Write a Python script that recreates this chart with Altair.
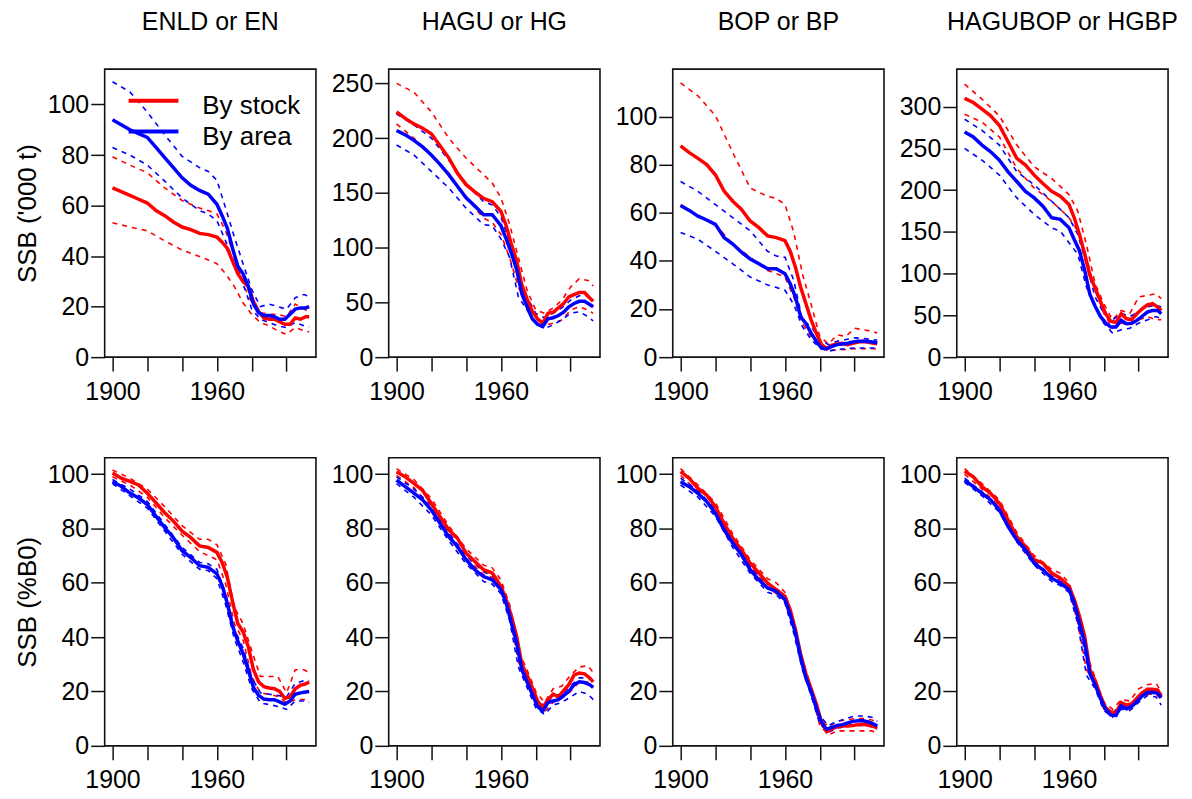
import altair as alt
import pandas as pd

# ---------------- data ----------------
YEARS = [1900, 1905, 1910, 1915, 1920, 1925, 1930, 1935, 1940, 1945, 1950, 1955, 1960,
         1963, 1966, 1969, 1972, 1975, 1978, 1981, 1984, 1987, 1990, 1993, 1996, 1999,
         2002, 2005, 2008, 2011, 2013]
BYEARS = [1900, 1910, 1920, 1930, 1940, 1950, 1955, 1960, 1965, 1970, 1975, 1980, 1985,
          1990, 1995, 2000, 2005, 2010, 2013]

STOCKS = ["ENLD or EN", "HAGU or HG", "BOP or BP", "HAGUBOP or HGBP"]
SERIES = ["By stock", "By area"]
COLORS = ["#ff0000", "#0000ff"]
X_TICKS = [1900, 1920, 1940, 1960, 1980, 2000]
YTITLE_TOP = "SSB ('000 t)"
YTITLE_BOTTOM = "SSB (%B0)"

# --- SSB ('000 t) ---
EN_T_STOCK = [67, 65.5, 64, 62.5, 61, 58, 56, 53.5, 51.5, 50.5, 49, 48.5, 47.5,
              45.5, 43, 38, 33, 30, 28, 22, 18, 15.5, 15, 15, 14, 13, 13, 15.5, 15, 16, 16]
EN_T_STOCK_HI = [79.3, 76, 73, 67, 62, 59, 58, 56.7, 50, 40, 29, 21.5, 17.6, 17, 17, 16, 21, 19, 18]
EN_T_STOCK_LO = [53.2, 51.5, 50, 46, 42.4, 39.8, 38.5, 37, 33, 28, 21.5, 17, 13.7, 12.4, 10.4, 9, 11.7, 10.4, 10]
EN_T_AREA = [94, 92, 90, 88.5, 87, 83, 79, 75, 71, 68, 66, 64.5, 60.5,
             56, 51, 43, 36, 33, 28, 21, 17.5, 16.5, 16.5, 16, 15, 15, 17, 19, 19.5, 19.5, 20]
EN_T_AREA_HI = [109, 105, 97, 88, 79.5, 75, 73.5, 70, 59, 47.6, 37, 26.7, 20, 21, 20, 19, 23.5, 24.8, 24]
EN_T_AREA_LO = [83, 80, 76, 69.7, 63, 58, 56.7, 54, 46, 37, 29, 19, 15, 13.7, 12.4, 11.7, 13.7, 12.4, 12]

HG_T_STOCK = [224, 218, 213, 209, 204, 193, 182, 168, 157.5, 151, 145, 142, 133,
              120, 103, 88, 66, 53, 42, 35, 31, 40, 41, 45, 49, 55, 57, 59, 59, 54, 51]
HG_T_STOCK_HI = [250, 242, 224, 200, 181.6, 166.6, 159, 145.5, 121, 91, 61, 43, 40, 45, 52, 64, 71.7, 70, 65]
HG_T_STOCK_LO = [213, 200, 184.6, 168, 145.5, 127, 123, 112, 91, 64, 49, 37, 29, 31, 34, 43, 46, 43, 40]
HG_T_AREA = [207, 203, 198, 192, 184.6, 176, 166.6, 156, 145.5, 138, 130, 130, 120,
             108, 95, 80, 58, 46, 35, 30, 28, 35, 36, 38, 41, 46, 49, 51, 51, 48, 46]
HG_T_AREA_HI = [222, 212, 200, 180, 158, 142, 139, 128, 105, 75, 55, 40, 36, 40, 45, 52, 56, 56, 52]
HG_T_AREA_LO = [193.7, 184.6, 169.6, 154.5, 136, 121, 120, 108, 91, 55, 43, 31, 26, 29.5, 34, 40, 41.5, 37, 33]

BP_T_STOCK = [87.8, 85, 82.6, 80, 75.8, 69, 64.8, 61.4, 56.6, 53.8, 50.4, 49.7, 48.4,
              44, 37.4, 29, 22.3, 15.5, 10, 5.2, 3.5, 5, 5.5, 5.8, 5.2, 5.8, 6.3, 6.5, 6.2, 5.8, 5.5]
BP_T_STOCK_HI = [114, 108.6, 100.4, 85, 70.3, 66.8, 66, 63.4, 52, 34.7, 22, 8.6, 5.5, 9.3, 8.6, 12, 11.4, 10.7, 10]
BP_T_STOCK_LO = [63.4, 58.5, 55, 47, 41.5, 36, 34.7, 33.3, 25, 14, 8.6, 4.5, 2.8, 3, 3.2, 3.5, 3.5, 3.5, 3.5]
BP_T_AREA = [63, 61, 58.6, 57, 55.2, 49.7, 47, 43.6, 40.8, 38.8, 36.7, 36.7, 34.7,
             30.5, 25, 16.8, 14, 10, 6.6, 3.8, 3.5, 4.5, 5.2, 5.5, 5.8, 6.3, 6.6, 6.6, 6.5, 6.2, 6]
BP_T_AREA_HI = [73, 68.9, 63.4, 58, 52.5, 44, 42, 41.5, 32, 15.5, 12.7, 7.3, 5.2, 6.6, 7.3, 8, 7.8, 7.3, 7]
BP_T_AREA_LO = [51.8, 49, 44, 38.8, 33.3, 30, 29, 27.8, 22, 12.7, 7.3, 3.8, 2.5, 3.2, 3.5, 3.8, 3.8, 3.8, 3.8]

HGBP_T_STOCK = [310, 305, 297, 289, 277.5, 258, 238, 230, 218, 208, 198.6, 192.7, 182.8,
                167, 147, 123.6, 98, 83, 67, 52, 43, 41.5, 52, 46, 45, 52, 58, 62.5, 64, 60, 56]
HGBP_T_STOCK_HI = [327, 309, 289, 254, 228, 214, 204.5, 194.6, 175, 135, 88, 64, 44.6, 56, 52.5, 72, 74, 76, 70]
HGBP_T_STOCK_LO = [291, 281.5, 263.7, 226, 202.5, 186.7, 177, 167, 151, 119.6, 80, 52.5, 34.7, 40.7, 38.7, 44.6, 48.6, 44.6, 45]
HGBP_T_AREA = [269.6, 263.7, 254, 246, 236, 222, 210.4, 198.6, 190.7, 180.8, 167, 165, 155,
               141, 127.5, 104, 75, 61, 49, 41, 36, 36, 44, 40, 40.5, 44, 49, 54, 56, 56, 52]
HGBP_T_AREA_HI = [285, 271.6, 254, 222, 206.5, 186.7, 177, 167, 147, 111.7, 72, 52.5, 44.6, 52.5, 48.6, 54.5, 60.4, 62.4, 60]
HGBP_T_AREA_LO = [250, 236, 218, 190.7, 171, 155, 151, 137, 123.6, 84, 60.4, 40.7, 28.8, 32.8, 34.7, 40.7, 44.6, 48.6, 46]

# --- SSB (%B0) ---
EN_P_STOCK = [100.4, 98.5, 97.3, 96, 93, 89.4, 85.8, 82.7, 79, 76.6, 73.6, 73, 71.2,
              67.5, 62, 53, 45, 42, 36.5, 28, 23.5, 21.8, 21.3, 21, 20, 17.5, 18, 21, 22.3, 22.8, 23.5]
EN_P_STOCK_HI = [101.5, 98.5, 94.5, 88, 81, 76, 76, 74, 67, 51, 45, 35, 25.5, 25.5, 25.5, 19.5, 28, 28, 27]
EN_P_STOCK_LO = [99, 96, 91.5, 84, 77.5, 71.5, 70, 68.5, 59.6, 45, 39, 25.5, 19.5, 18.9, 18.2, 15.8, 17, 17, 17]
EN_P_AREA = [97.3, 95.5, 93, 91.2, 88.8, 84.5, 80.3, 76.6, 71.8, 69.3, 66.3, 65.7, 63.3,
             59, 52.3, 44, 38.5, 34, 28, 21.5, 18.5, 17.2, 17, 17, 16.2, 15.3, 16.5, 19, 19.5, 19.8, 20]
EN_P_AREA_HI = [98, 94.5, 90, 81.5, 73, 67.5, 67, 65, 56, 43, 36, 25, 19.5, 19, 18.5, 18, 23, 24, 24]
EN_P_AREA_LO = [96.5, 92, 87.5, 79, 70.5, 65, 64.5, 61.5, 52, 39.5, 31, 21, 15.8, 15.2, 14.5, 13.4, 16.5, 16.5, 16]

HG_P_STOCK = [100.9, 99, 96.6, 94, 89.2, 84.3, 79.5, 76.4, 70.9, 67.8, 64.8, 63.6, 58.7,
              53.8, 47.7, 40.3, 30, 26, 21.5, 16.5, 14, 17, 19, 18, 20.3, 22.5, 26, 26.8, 26.5, 25, 23.5]
HG_P_STOCK_HI = [102, 98, 91, 81, 72.5, 66.5, 65.5, 61, 52, 35, 28, 20, 16, 21, 22, 26, 29, 29.5, 27]
HG_P_STOCK_LO = [99.5, 95, 87.5, 78, 69, 63, 62, 56.5, 48, 31, 24.5, 16.5, 12.5, 16, 17.5, 20, 23.5, 23.5, 21.5]
HG_P_AREA = [97.8, 95.4, 93, 90.5, 86.8, 81.9, 77, 73.3, 68.5, 64.8, 62.3, 61.1, 57.5,
             52.6, 45.2, 37.9, 28, 23.5, 19, 14.5, 12.8, 15.9, 16.5, 17, 18.5, 20, 22.5, 23.6, 23.3, 22.5, 21.5]
HG_P_AREA_HI = [99, 94.5, 88.5, 78.5, 70, 64, 62.5, 59, 49.5, 32.5, 26, 17.5, 14.5, 18.5, 19, 22, 25, 25, 23.5]
HG_P_AREA_LO = [96.5, 91.5, 85, 75.5, 67, 60.5, 59.5, 56, 46, 29, 21.5, 14, 11.5, 15, 16, 18, 20, 19, 17]

BP_P_STOCK = [100.9, 98.4, 94.7, 92.3, 88, 81.9, 76.4, 72.1, 67.2, 63.6, 59.9, 57.5, 55,
              50.1, 42.8, 33.6, 26.5, 21, 15.5, 8.6, 5.2, 6.3, 7, 7.3, 7.3, 7.5, 7.8, 7.9, 7.6, 7.1, 6.5]
BP_P_STOCK_HI = [102, 96, 89.5, 78, 68.5, 61.5, 60, 56.5, 46, 32, 21.5, 10.5, 7, 9, 9.5, 10, 10, 9.5, 8.5]
BP_P_STOCK_LO = [99.5, 93.5, 86.5, 75, 66, 58.5, 56, 53.5, 43, 29.5, 19.5, 7.5, 4, 5.5, 5.5, 5.5, 5.5, 5.5, 4.5]
BP_P_AREA = [97.2, 95.4, 92.9, 89.9, 85.6, 79.5, 74.6, 70.3, 64.8, 61.1, 58.1, 56.8, 53.8,
             48.3, 41.6, 32.4, 25, 20, 14, 8.6, 6.1, 6.8, 7.5, 7.8, 8.4, 9, 9.2, 9.2, 8.8, 8, 7.3]
BP_P_AREA_HI = [98.5, 94, 87, 76, 66, 59.5, 58, 55, 45, 30.5, 21, 11, 7.5, 9, 10, 11, 11, 10.5, 9]
BP_P_AREA_LO = [96, 91.5, 84.5, 73, 63.5, 56.5, 55.5, 52.5, 41.5, 28, 18.5, 8, 5, 6.5, 7, 7.5, 7.5, 7, 6]

HGBP_P_STOCK = [101.1, 99, 95.4, 92.9, 89.2, 83.1, 77, 73.3, 68.5, 67.2, 63.6, 61.7, 58.7,
                53.8, 47.7, 40.3, 28, 24, 18.5, 14, 12.5, 12.2, 15.9, 15, 15.5, 17.5, 19.5, 20.8, 20.8, 20.5, 18.3]
HGBP_P_STOCK_HI = [102, 96.5, 90.5, 78.5, 70, 65, 63.5, 60, 50, 34, 25, 16, 13.5, 17, 16.5, 21, 22.5, 23, 20]
HGBP_P_STOCK_LO = [100, 94.5, 88, 75.5, 67, 62, 60, 57.5, 45.5, 28, 23, 13.5, 11, 14.5, 14, 18, 19, 19, 17]
HGBP_P_AREA = [97.8, 95.4, 92.9, 90.5, 86.8, 80.7, 75.8, 72.1, 67.2, 64.8, 61.7, 59.9, 57.5,
               52.6, 45.2, 37.9, 26.5, 22.5, 17.5, 13.5, 11.3, 11.2, 14.7, 13.6, 14.5, 16.3, 18.3, 19.6, 19.7, 19.3, 17.7]
HGBP_P_AREA_HI = [98.5, 93.5, 87.5, 76.5, 68, 62.5, 61, 58.5, 48, 31, 23.5, 15, 12, 15.5, 15, 18.5, 20.5, 21, 19]
HGBP_P_AREA_LO = [97, 92, 86, 75, 66.5, 60.5, 59, 56.5, 45, 26, 21, 13, 10.5, 13.5, 13, 16, 18.5, 18, 15]

TOP_DATA = [
    (EN_T_STOCK, EN_T_STOCK_HI, EN_T_STOCK_LO, EN_T_AREA, EN_T_AREA_HI, EN_T_AREA_LO),
    (HG_T_STOCK, HG_T_STOCK_HI, HG_T_STOCK_LO, HG_T_AREA, HG_T_AREA_HI, HG_T_AREA_LO),
    (BP_T_STOCK, BP_T_STOCK_HI, BP_T_STOCK_LO, BP_T_AREA, BP_T_AREA_HI, BP_T_AREA_LO),
    (HGBP_T_STOCK, HGBP_T_STOCK_HI, HGBP_T_STOCK_LO, HGBP_T_AREA, HGBP_T_AREA_HI, HGBP_T_AREA_LO),
]
BOTTOM_DATA = [
    (EN_P_STOCK, EN_P_STOCK_HI, EN_P_STOCK_LO, EN_P_AREA, EN_P_AREA_HI, EN_P_AREA_LO),
    (HG_P_STOCK, HG_P_STOCK_HI, HG_P_STOCK_LO, HG_P_AREA, HG_P_AREA_HI, HG_P_AREA_LO),
    (BP_P_STOCK, BP_P_STOCK_HI, BP_P_STOCK_LO, BP_P_AREA, BP_P_AREA_HI, BP_P_AREA_LO),
    (HGBP_P_STOCK, HGBP_P_STOCK_HI, HGBP_P_STOCK_LO, HGBP_P_AREA, HGBP_P_AREA_HI, HGBP_P_AREA_LO),
]
TOP_DOMAINS = [[0, 114], [0, 263], [0, 119.7], [0, 345]]
TOP_TICKS = [[0, 20, 40, 60, 80, 100], [0, 50, 100, 150, 200, 250],
             [0, 20, 40, 60, 80, 100], [0, 50, 100, 150, 200, 250, 300]]
BOTTOM_DOMAIN = [0, 106]
BOTTOM_TICKS = [0, 20, 40, 60, 80, 100]

# ---------------- styling ----------------
FONT = "Liberation Sans"
PW, PH = 212, 289
X_DOMAIN = [1895.5, 2016.9]
# legend layout inside the first panel (pixels from the plot's top-left)
LEG_X0, LEG_X1, LEG_TEXT_X = 24, 74, 98
LEG_LINE_Y = [31.7, 62.7]
LEG_TEXT_Y = [45, 76.5]


def make_frame(vals):
    stock, stock_hi, stock_lo, area, area_hi, area_lo = vals
    rows = []
    for name, kind, yrs, arr in [
        (SERIES[0], "mid", YEARS, stock), (SERIES[0], "hi", BYEARS, stock_hi),
        (SERIES[0], "lo", BYEARS, stock_lo), (SERIES[1], "mid", YEARS, area),
        (SERIES[1], "hi", BYEARS, area_hi), (SERIES[1], "lo", BYEARS, area_lo)]:
        for yr, v in zip(yrs, arr):
            rows.append({"year": yr, "value": v, "series": name, "kind": kind})
    return pd.DataFrame(rows)


def panel(vals, ydomain, yticks, ytitle, title, legend):
    df = make_frame(vals)
    base = alt.Chart(df).properties(width=PW, height=PH)
    x = alt.X("year:Q",
              scale=alt.Scale(domain=X_DOMAIN, nice=False, zero=False),
              axis=alt.Axis(values=X_TICKS, format="d", title=None, labelOverlap=False,
                            labelExpr="datum.value == 1900 || datum.value == 1960 ? datum.label : ''"))
    yaxis = alt.Axis(values=yticks, title=ytitle, labelOverlap=False) if ytitle else \
        alt.Axis(values=yticks, title=None, labelOverlap=False)
    y = alt.Y("value:Q", scale=alt.Scale(domain=ydomain, nice=False, zero=False), axis=yaxis)
    layers = []
    for s, c in zip(SERIES, COLORS):
        layers.append(
            base.transform_filter(f"datum.series == '{s}' && datum.kind != 'mid'")
            .mark_line(strokeDash=[5, 5], strokeWidth=1.6, color=c)
            .encode(x=x, y=y, detail="kind:N"))
    for s, c in zip(SERIES, COLORS):
        layers.append(
            base.transform_filter(f"datum.series == '{s}' && datum.kind == 'mid'")
            .mark_line(strokeWidth=3.5, color=c)
            .encode(x=x, y=y))
    if legend:
        leg_df = pd.DataFrame({"series": SERIES})
        for i, (s, c) in enumerate(zip(SERIES, COLORS)):
            one = alt.Chart(leg_df).transform_filter(f"datum.series == '{s}'")
            layers.append(one.mark_rule(strokeWidth=4, color=c).encode(
                x=alt.value(LEG_X0), x2=alt.value(LEG_X1), y=alt.value(LEG_LINE_Y[i])))
            layers.append(one.mark_text(align="left", baseline="alphabetic", font=FONT,
                                        fontSize=26, color="black").encode(
                x=alt.value(LEG_TEXT_X), y=alt.value(LEG_TEXT_Y[i]), text="series:N"))
    ch = alt.layer(*layers)
    if title:
        ch = ch.properties(title=alt.TitleParams(
            text=title, font=FONT, fontSize=25, fontWeight="normal", color="black",
            anchor="middle", baseline="alphabetic", offset=14, frame="group"))
    return ch


top = [panel(TOP_DATA[i], TOP_DOMAINS[i], TOP_TICKS[i], YTITLE_TOP if i == 0 else None,
             STOCKS[i], i == 0) for i in range(4)]
bottom = [panel(BOTTOM_DATA[i], BOTTOM_DOMAIN, BOTTOM_TICKS, YTITLE_BOTTOM if i == 0 else None,
                None, False) for i in range(4)]

chart = alt.concat(*(top + bottom), columns=4, spacing={"row": 101, "column": 73},
                   bounds="flush").resolve_scale(y="independent").properties(
    padding={"left": 5, "top": 0, "right": 5, "bottom": 0},
    background="white",
).configure_view(
    stroke="#111111", strokeWidth=1.6
).configure_axis(
    labelFont=FONT, labelFontSize=25, labelColor="black",
    tickColor="#111111", tickWidth=1.5, tickSize=14, domain=False, grid=False,
    titleFont=FONT, titleFontSize=26, titleFontWeight="normal", titleColor="black",
).configure_axisX(
    labelPadding=8
).configure_axisY(
    labelPadding=2, titlePadding=7
)

chart.save("out.html", embed_options={"renderer": "svg", "actions": False})
